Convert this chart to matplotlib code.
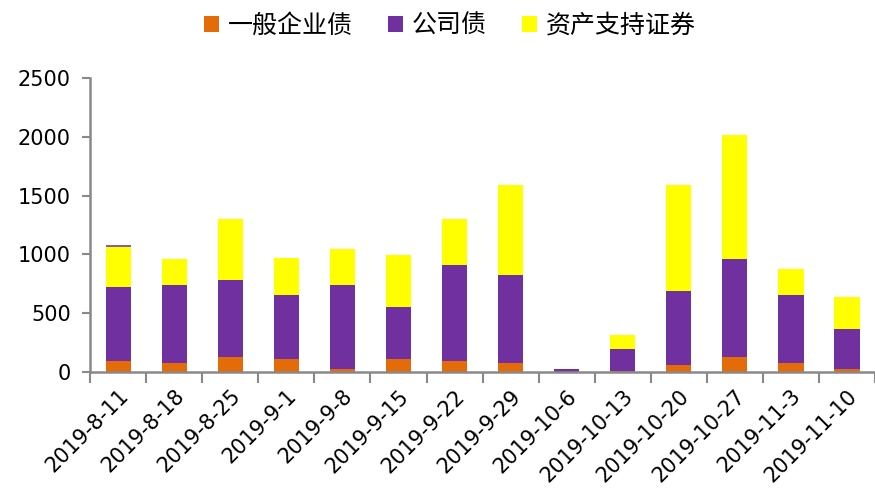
import matplotlib
matplotlib.use('Agg')
import matplotlib.pyplot as plt
import numpy as np

plt.rcParams['font.family'] = ['Noto Sans CJK SC', 'DejaVu Sans']

# data
dates = ['2019-8-11', '2019-8-18', '2019-8-25', '2019-9-1', '2019-9-8', '2019-9-15',
         '2019-9-22', '2019-9-29', '2019-10-6', '2019-10-13', '2019-10-20', '2019-10-27',
         '2019-11-3', '2019-11-10']
general = [93, 76, 127, 110, 25, 110, 93, 76, 0, 5, 60, 127, 76, 25]
company = [629, 664, 655, 545, 715, 443, 817, 749, 25, 190, 630, 833, 579, 340]
abs_sec = [340, 220, 518, 315, 305, 442, 390, 765, 0, 120, 900, 1055, 220, 272]
other = [17, 0, 0, 0, 0, 0, 0, 0, 0, 0, 0, 0, 0, 0]

c_orange = '#E36C09'
c_purple = '#7030A0'
c_yellow = '#FFFF00'
c_other = '#8064A2'
axis_gray = '#898989'

fig = plt.figure(figsize=(8.75, 4.96), dpi=100)
ax = fig.add_axes([0.103, 0.25, 0.897, 0.593])

x = np.arange(len(dates))
w = 0.45
b1 = np.array(general)
b2 = b1 + np.array(company)
b3 = b2 + np.array(abs_sec)
ax.bar(x, general, w, color=c_orange, label='一般企业债')
ax.bar(x, company, w, bottom=b1, color=c_purple, label='公司债')
ax.bar(x, abs_sec, w, bottom=b2, color=c_yellow, label='资产支持证券')
ax.bar(x, other, w, bottom=b3, color=c_other)

ax.set_xlim(-0.5, len(dates) - 0.5)
ax.set_ylim(0, 2500)
ax.set_yticks([0, 500, 1000, 1500, 2000, 2500])
ax.tick_params(axis='y', labelsize=15, length=6, width=1.5, color=axis_gray, pad=8,
               labelcolor='black')
ax.set_yticklabels(['0', '500', '1000', '1500', '2000', '2500'], family='DejaVu Sans')

ax.set_xticks(x)
ax.set_xticklabels(dates, rotation=45, ha='right', rotation_mode='anchor',
                   fontsize=15, family='DejaVu Sans')
ax.set_xticks(np.arange(-0.5, len(dates), 1), minor=True)
ax.tick_params(axis='x', which='major', length=0, pad=10)
ax.tick_params(axis='x', which='minor', length=8, width=1.5, color=axis_gray)

for s in ['top', 'right']:
    ax.spines[s].set_visible(False)
for s in ['left', 'bottom']:
    ax.spines[s].set_color(axis_gray)
    ax.spines[s].set_linewidth(1.8)

fig.legend(loc='upper center', bbox_to_anchor=(0.514, 1.02), ncol=3, frameon=False,
           fontsize=18, handlelength=0.6, handleheight=0.6, columnspacing=1.4,
           handletextpad=0.35)

fig.savefig('out.png', dpi=100)
